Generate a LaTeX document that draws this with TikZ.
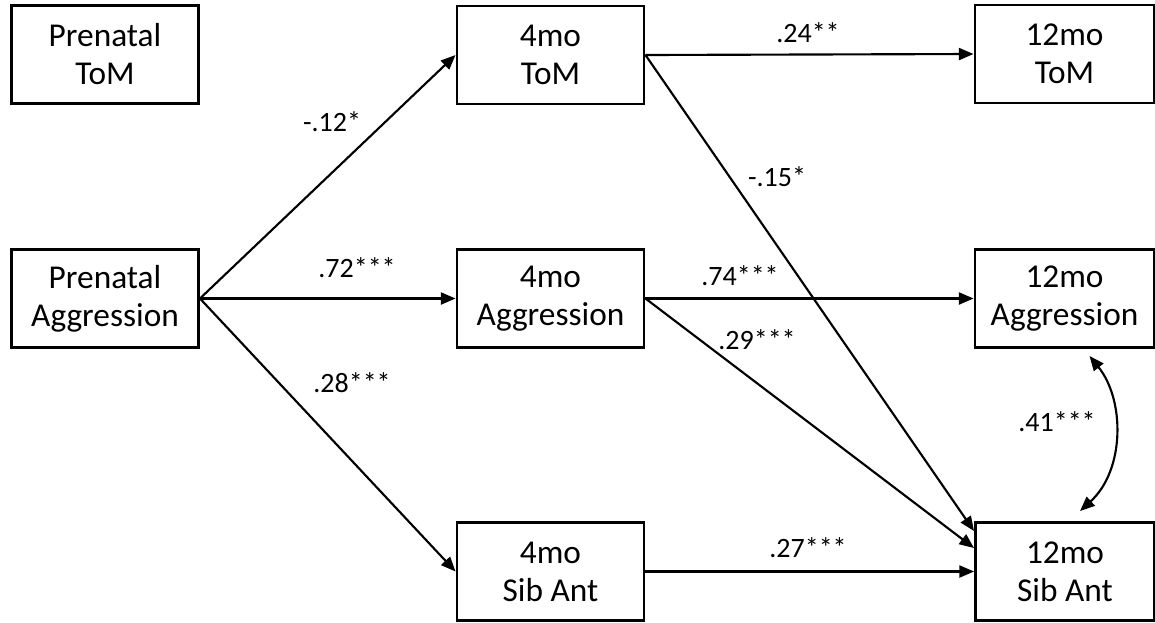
\documentclass[tikz,border=0pt]{standalone}
\usepackage{fontspec}
\setmainfont{Carlito}
\usetikzlibrary{arrows.meta,calc}

\begin{document}
\begin{tikzpicture}[
    x=0.75pt,y=-0.75pt,
    box/.style={draw,line width=2.2pt,minimum width=140.25pt,minimum height=73.5pt,align=center,font=\fontsize{25}{28.5}\selectfont},
    wbox/.style={box,minimum width=134.25pt},
    arr/.style={-{Triangle[length=11pt,width=9pt]},line width=1.6pt},
    coef/.style={font=\fontsize{21}{24}\selectfont}
  ]
    \useasboundingbox (0,0) rectangle (1155,622);
    % first column
    \node[box] (pToM) at (105,54.5) {Prenatal\\ToM};
    \node[box] (pAgg) at (105,298.5) {Prenatal\\Aggression};
    % 4 months
    \node[box] (tToM) at (550.5,55) {4mo\\ToM};
    \node[box] (tAgg) at (550.5,298.5) {4mo\\Aggression};
    \node[box] (tSib) at (550.5,571.5) {4mo\\Sib Ant};
    % 12 months
    \node[wbox] (yToM) at (1064.5,54) {12mo\\ToM};
    \node[wbox] (yAgg) at (1064.5,298.5) {12mo\\Aggression};
    \node[wbox] (ySib) at (1065,571.5) {12mo\\Sib Ant};
    \coordinate (sibA) at ($(ySib.north west)+(0,10)$);
    \coordinate (sibB) at ($(ySib.north west)+(0,27)$);
    \coordinate (aggLo) at ($(yAgg.south)+(25,7)$);
    \coordinate (sibHi) at ($(ySib.north)+(15,-10)$);
    \draw[arr] (pAgg.east) -- (tToM.west);
    \draw[arr] (pAgg.east) -- (tAgg.west);
    \draw[arr] (pAgg.east) -- (tSib.west);
    \draw[arr] (tToM.east) -- (yToM.west);
    \draw[arr] (tToM.east) -- (sibA);
    \draw[arr] (tAgg.east) -- (yAgg.west);
    \draw[arr] (tAgg.east) -- (sibB);
    \draw[arr] (tSib.east) -- (ySib.west);
    \draw[arr,{Triangle[length=11pt,width=9pt]}-{Triangle[length=11pt,width=9pt]}] (aggLo) .. controls (1125,400) and (1125,470) .. (sibHi);
    % coefficients
    \node[coef] (c1) at (332,122) {-.12*};
    \node[coef] (c2) at (357,268) {.72***};
    \node[coef] (c3) at (352,383) {.28***};
    \node[coef] (c4) at (808,33) {.24**};
    \node[coef] (c5) at (777,177) {-.15*};
    \node[coef] (c6) at (740,276) {.74***};
    \node[coef] (c7) at (757,340) {.29***};
    \node[coef] (c8) at (808,548) {.27***};
    \node[coef] (c9) at (1057,422) {.41***};
\end{tikzpicture}
\end{document}
